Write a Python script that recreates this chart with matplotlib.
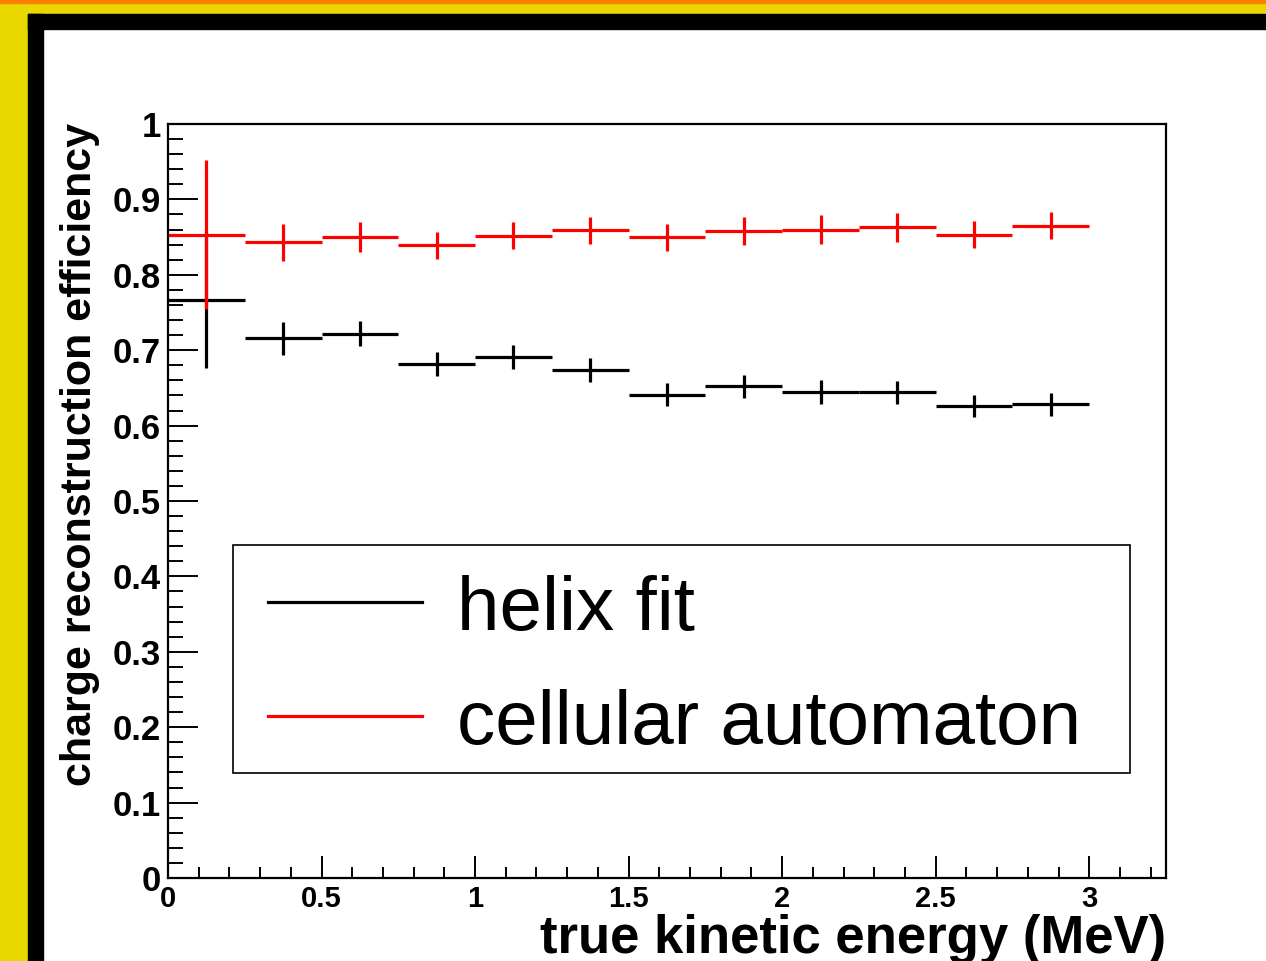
import numpy as np
import matplotlib
matplotlib.use("Agg")
import matplotlib.pyplot as plt
from matplotlib.patches import Rectangle
from matplotlib.lines import Line2D
from matplotlib.ticker import MultipleLocator, FuncFormatter

plt.rcParams['font.family'] = ['Liberation Sans', 'DejaVu Sans']

# bin centres (MeV) and half bin width
energy = [0.125, 0.375, 0.625, 0.875, 1.125, 1.375, 1.625, 1.875, 2.125, 2.375, 2.625, 2.875]
half_width = 0.125

helix_eff = [0.767, 0.716, 0.722, 0.682, 0.691, 0.674, 0.641, 0.652, 0.645, 0.644, 0.626, 0.628]
helix_err = [0.090, 0.022, 0.017, 0.016, 0.016, 0.016, 0.015, 0.015, 0.016, 0.015, 0.015, 0.015]

ca_eff = [0.853, 0.843, 0.850, 0.839, 0.852, 0.859, 0.850, 0.858, 0.860, 0.863, 0.853, 0.865]
ca_err = [0.099, 0.025, 0.020, 0.018, 0.018, 0.018, 0.018, 0.018, 0.019, 0.019, 0.018, 0.018]

W, H = 1266, 961
fig = plt.figure(figsize=(W / 100, H / 100), dpi=100)


def fx(x):
    return x / W


def fy(y):
    return 1 - y / H


# coloured frame around the canvas
fig.add_artist(Rectangle((0, 0), fx(28), 1, color='#e8d800', transform=fig.transFigure, zorder=0))
fig.add_artist(Rectangle((0, fy(14)), 1, 14 / H, color='#e8d800', transform=fig.transFigure, zorder=0))
fig.add_artist(Rectangle((0, fy(3)), 1, 3 / H, color='#ff8000', transform=fig.transFigure, zorder=0))
fig.add_artist(Rectangle((fx(28), 0), 15 / W, fy(14), color='black', transform=fig.transFigure, zorder=0))
fig.add_artist(Rectangle((fx(28), fy(29)), 1, 15 / H, color='black', transform=fig.transFigure, zorder=0))

ax = fig.add_axes([fx(168), fy(878), (1166 - 168) / W, (878 - 124) / H])

ax.errorbar(energy, helix_eff, xerr=half_width, yerr=helix_err, fmt='none',
            ecolor='black', elinewidth=2.3, capsize=0)
ax.errorbar(energy, ca_eff, xerr=half_width, yerr=ca_err, fmt='none',
            ecolor='#ff0000', elinewidth=2.3, capsize=0)

ax.set_xlim(0, 3.25)
ax.set_ylim(0, 1)
ax.xaxis.set_major_locator(MultipleLocator(0.5))
ax.xaxis.set_minor_locator(MultipleLocator(0.1))
ax.yaxis.set_major_locator(MultipleLocator(0.1))
ax.yaxis.set_minor_locator(MultipleLocator(0.02))
fmt = FuncFormatter(lambda v, p: '%g' % round(v, 3))
ax.xaxis.set_major_formatter(fmt)
ax.yaxis.set_major_formatter(fmt)

ax.tick_params(axis='y', which='major', direction='in', length=21.5, width=1.4, pad=5,
               labelsize=25)
ax.tick_params(axis='y', which='minor', direction='in', length=10.8, width=1.4)
ax.tick_params(axis='x', which='major', direction='in', length=15.8, width=1.4, pad=5,
               labelsize=21)
ax.tick_params(axis='x', which='minor', direction='in', length=7.9, width=1.4)
for lab in ax.get_xticklabels() + ax.get_yticklabels():
    lab.set_fontweight('bold')
for sp in ax.spines.values():
    sp.set_linewidth(1.6)

fig.text(fx(1166), fy(953), 'true kinetic energy (MeV)', ha='right', va='baseline',
         fontsize=38, fontweight='bold')
fig.text(fx(80), fy(123), 'charge reconstruction efficiency', ha='center', va='top',
         rotation=90, fontsize=31, fontweight='bold')

# legend box
fig.add_artist(Rectangle((fx(233), fy(773)), (1130 - 233) / W, (773 - 545) / H,
                         fill=False, edgecolor='black', linewidth=1.2,
                         transform=fig.transFigure))
labels = ['helix fit', 'cellular automaton']
colors = ['black', '#ff0000']
for i, (lab, col) in enumerate(zip(labels, colors)):
    yy = 602 + 114 * i
    fig.add_artist(Line2D([fx(268), fx(422)], [fy(yy), fy(yy)], color=col, linewidth=2.3,
                          transform=fig.transFigure))
    fig.text(fx(457), fy(yy + 28), lab, ha='left', va='baseline', fontsize=55)

fig.savefig('out.png', dpi=100)
